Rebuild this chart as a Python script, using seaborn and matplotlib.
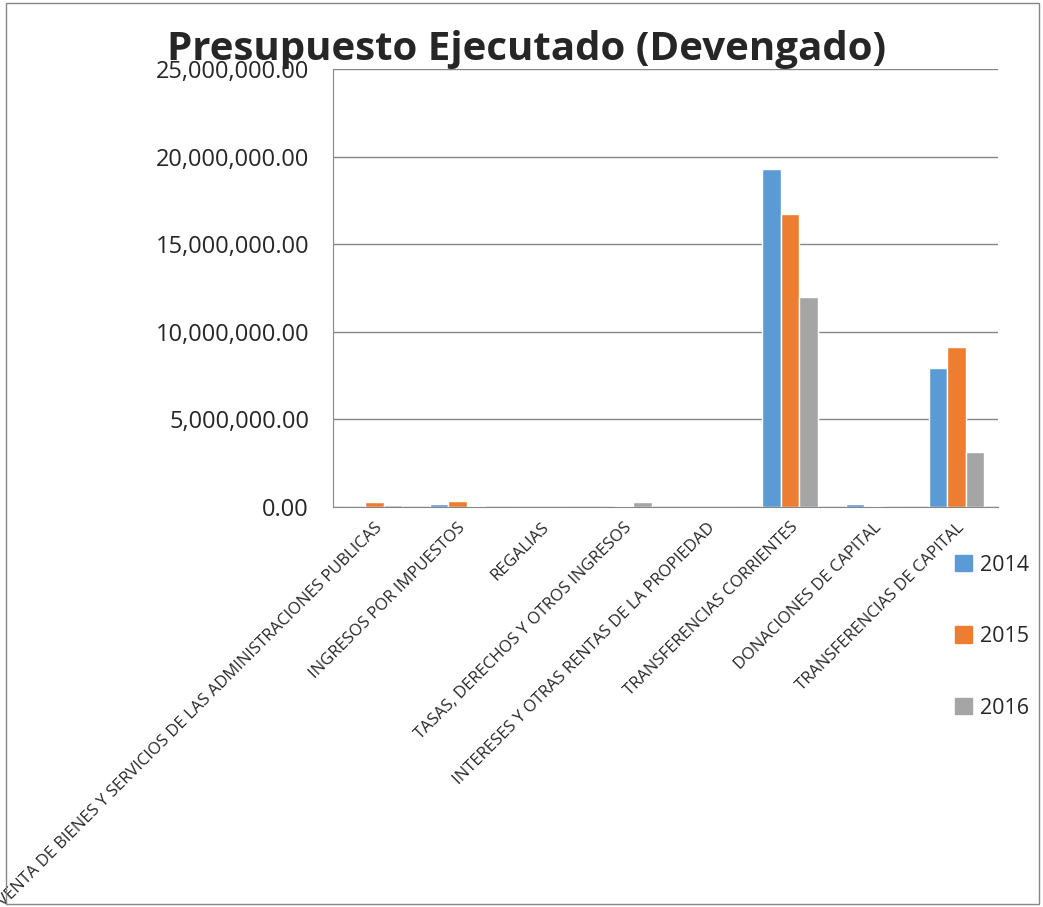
import pandas as pd
import seaborn as sns
import matplotlib.pyplot as plt
from matplotlib.ticker import FuncFormatter

# Categories and values
categories = [
    "VENTA DE BIENES Y SERVICIOS DE LAS ADMINISTRACIONES PUBLICAS",
    "INGRESOS POR IMPUESTOS",
    "REGALIAS",
    "TASAS, DERECHOS Y OTROS INGRESOS",
    "INTERESES Y OTRAS RENTAS DE LA PROPIEDAD",
    "TRANSFERENCIAS CORRIENTES",
    "DONACIONES DE CAPITAL",
    "TRANSFERENCIAS DE CAPITAL",
]
years = ["2014", "2015", "2016"]
v2014 = [10000, 150000, 0, 20000, 5000, 19300000, 150000, 7950000]
v2015 = [310000, 330000, 0, 60000, 5000, 16700000, 50000, 9150000]
v2016 = [130000, 70000, 0, 260000, 5000, 12000000, 20000, 3150000]
colors = ["#5B9BD5", "#ED7D31", "#A5A5A5"]

df = pd.DataFrame({"Categoria": categories, "2014": v2014, "2015": v2015, "2016": v2016})
df = df.melt(id_vars="Categoria", var_name="Año", value_name="Valor")

sns.set_style("white")
plt.rcParams['font.family'] = ['Open Sans', 'DejaVu Sans']

fig = plt.figure(figsize=(10.43, 9.07), dpi=100)
ax = fig.add_axes([0.319, 0.441, 0.638, 0.483])

sns.barplot(data=df, x="Categoria", y="Valor", hue="Año", order=categories,
            hue_order=years, palette=colors, width=0.67, gap=0, ax=ax,
            saturation=1, legend=False)

ax.set_ylim(0, 25000000)
ax.set_yticks([0, 5000000, 10000000, 15000000, 20000000, 25000000])
ax.yaxis.set_major_formatter(FuncFormatter(lambda v, p: f"{v:,.2f}"))
ax.tick_params(axis='y', labelsize=17, length=0, pad=17)
ax.grid(axis='y', color='#868686', linewidth=1)
ax.set_axisbelow(True)
ax.set_xlim(-0.5, len(categories) - 0.5)
ax.set_xticks(range(len(categories)))
ax.set_xticklabels(categories, rotation=45, ha='right', rotation_mode='anchor', fontsize=12)
ax.set_xticks([i - 0.5 for i in range(len(categories) + 1)], minor=True)
ax.tick_params(axis='x', which='major', length=0, pad=9)
ax.tick_params(axis='x', which='minor', length=6, color='#868686', direction='out')
ax.set_xlabel("")
ax.set_ylabel("")
for s in ['top', 'right']:
    ax.spines[s].set_visible(False)
for s in ['left', 'bottom']:
    ax.spines[s].set_color('#868686')

fig.text(0.505, 0.945, "Presupuesto Ejecutado (Devengado)", ha='center', va='center',
         fontsize=29, fontweight='bold')

handles = [plt.Rectangle((0, 0), 1, 1, color=c) for c in colors]
fig.legend(handles, years, loc='upper left', bbox_to_anchor=(0.897, 0.41),
           frameon=False, fontsize=15.5, handlelength=0.8, handleheight=0.8,
           labelspacing=2.35, handletextpad=0.35)

# outer border
fig.patches.append(plt.Rectangle((0.006, 0.003), 0.99, 0.994, transform=fig.transFigure,
                                 fill=False, edgecolor='#868686', linewidth=1))

fig.savefig("out.png", dpi=100)
